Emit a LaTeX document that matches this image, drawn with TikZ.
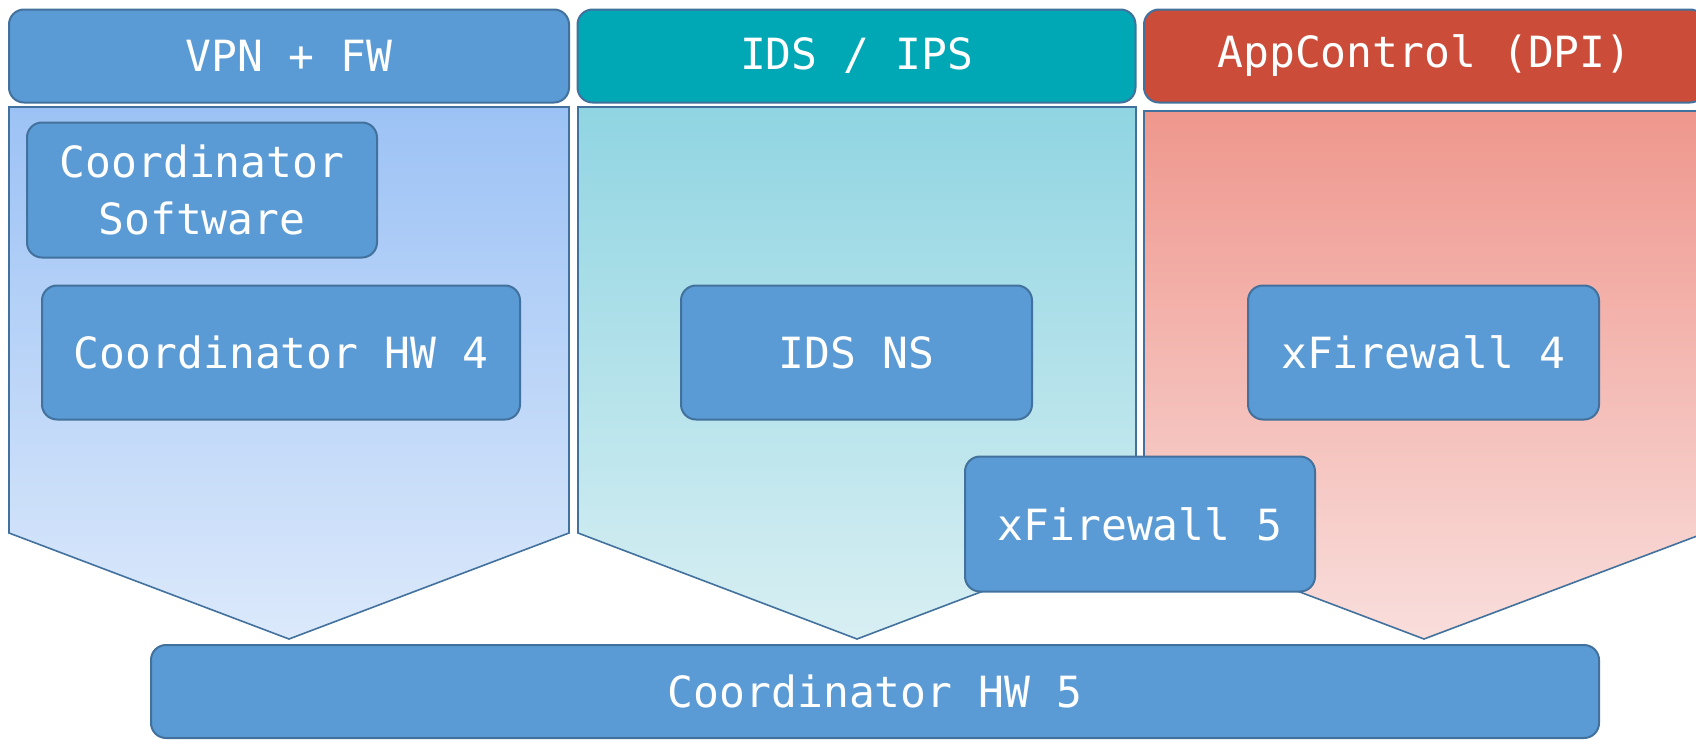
\documentclass[tikz,border=0pt]{standalone}
\usepackage{fontspec}
\setmainfont{DejaVu Sans Mono}
\definecolor{boxblue}{HTML}{5B9BD5}
\definecolor{edgeblue}{HTML}{41719C}
\definecolor{headteal}{HTML}{00A8B6}
\definecolor{headred}{HTML}{CA4C39}
\definecolor{vpntop}{HTML}{9CC2F5}
\definecolor{vpnbot}{HTML}{DCE9FB}
\definecolor{idstop}{HTML}{90D5E2}
\definecolor{idsbot}{HTML}{D8EFF3}
\definecolor{dpitop}{HTML}{EF978D}
\definecolor{dpibot}{HTML}{F9DEDC}
\tikzset{
  box/.style={draw=edgeblue, line width=1pt, fill=boxblue, rounded corners=7.5pt,
    text=white, inner sep=0pt, align=center,
    font=\fontsize{21.5}{28.5}\selectfont},
  header/.style={box, minimum height=46.5pt},
  chevron/.style={draw=edgeblue, line width=0.8pt}
}
\begin{document}
\begin{tikzpicture}[x=0.5pt,y=-0.5pt]
\useasboundingbox (0,0) rectangle (1696,739);

% chevrons
\path[chevron, top color=vpntop, bottom color=vpnbot]
  (9,107) -- (569,107) -- (569,533) -- (289,639) -- (9,533) -- cycle;
\path[chevron, top color=idstop, bottom color=idsbot]
  (578,107) -- (1136,107) -- (1136,533) -- (857,639) -- (578,533) -- cycle;
\path[chevron, top color=dpitop, bottom color=dpibot]
  (1144,111) -- (1705,111) -- (1705,533) -- (1424,639) -- (1144,533) -- cycle;

% headers
\node[header, minimum width=280pt] (vpn) at (289,56) {VPN + FW};
\node[header, minimum width=279pt, fill=headteal] (ids) at (856.5,56) {IDS / IPS};
\node[header, minimum width=280.5pt, fill=headred] (dpi) at (1424.5,56) {AppControl (DPI)};

% products
\node[box, minimum width=175pt, minimum height=67.5pt] (sw) at (202,190) {Coordinator\\Software};
\node[box, minimum width=239pt, minimum height=67pt] (hw4) at (281,352.5) {Coordinator HW 4};
\node[box, minimum width=175.5pt, minimum height=67pt] (idsns) at (856.5,352.5) {IDS NS};
\node[box, minimum width=175.5pt, minimum height=67pt] (xf4) at (1423.5,352.5) {xFirewall 4};
\node[box, minimum width=175pt, minimum height=67.5pt] (xf5) at (1140,524) {xFirewall 5};

\node[header, minimum width=724pt] (hw5) at (875,691.5) {Coordinator HW 5};
\end{tikzpicture}
\end{document}
